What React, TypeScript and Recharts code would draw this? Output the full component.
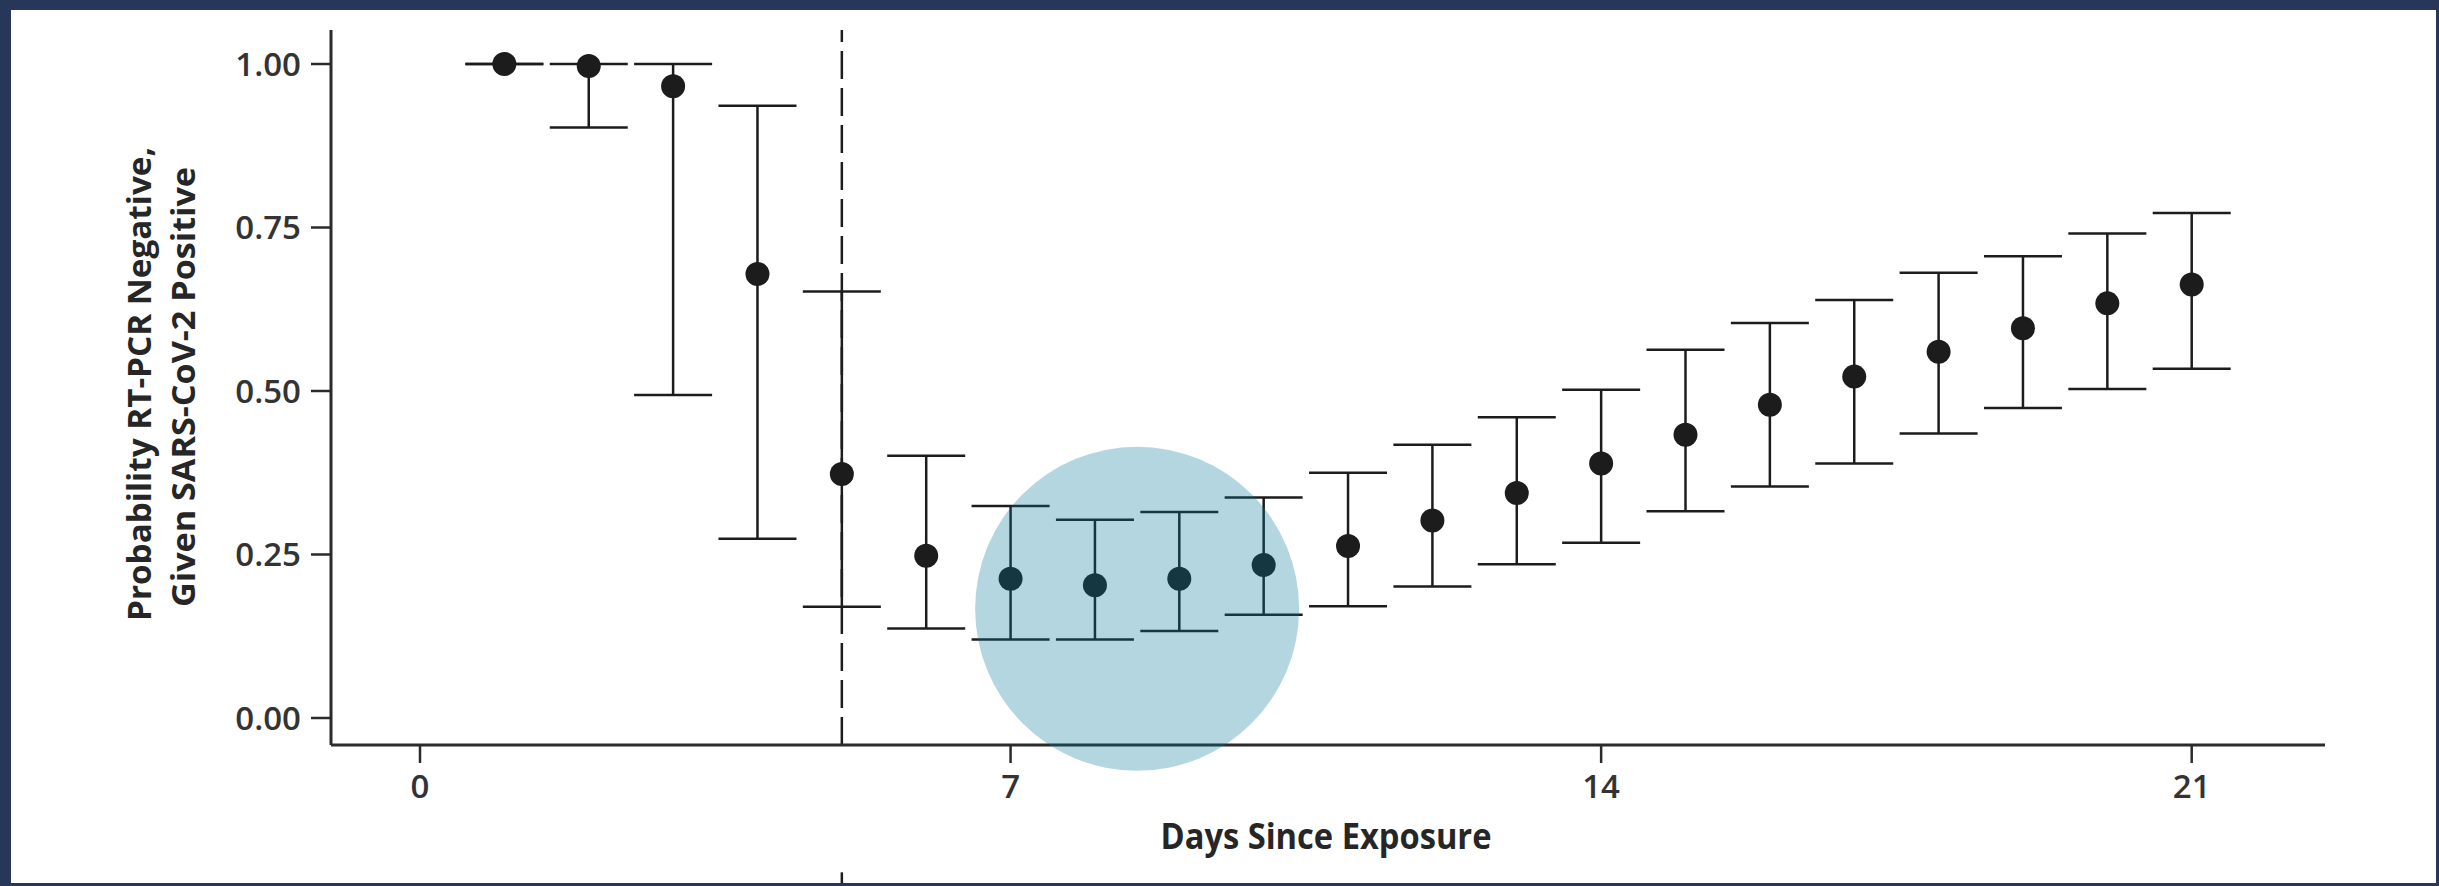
import {
  ScatterChart, Scatter, XAxis, YAxis, ErrorBar,
  ReferenceLine, ReferenceDot
} from 'recharts';

// values (probability RT-PCR negative, with 95% interval)
const days = [1, 2, 3, 4, 5, 6, 7, 8, 9, 10, 11, 12, 13, 14, 15, 16, 17, 18, 19, 20, 21];
const probNeg = [1.0, 0.997, 0.966, 0.679, 0.373, 0.248, 0.213, 0.203, 0.213, 0.234, 0.263,
  0.302, 0.344, 0.389, 0.433, 0.479, 0.522, 0.560, 0.596, 0.634, 0.663];
const lowerCI = [1.0, 0.903, 0.494, 0.274, 0.170, 0.137, 0.120, 0.120, 0.133, 0.158, 0.171,
  0.201, 0.235, 0.268, 0.316, 0.354, 0.389, 0.435, 0.474, 0.503, 0.534];
const upperCI = [1.0, 1.0, 1.0, 0.936, 0.652, 0.401, 0.324, 0.303, 0.315, 0.337, 0.375,
  0.418, 0.460, 0.502, 0.563, 0.604, 0.639, 0.681, 0.706, 0.741, 0.772];

const xTicks = [0, 7, 14, 21];
const yTicks = [0, 0.25, 0.5, 0.75, 1];
const symptomOnsetDay = 5;
const highlightDay = 8.5;
const highlightValue = 0.167;

const data = days.map((day, i) => ({
  day,
  p: probNeg[i],
  err: [probNeg[i] - lowerCI[i], upperCI[i] - probNeg[i]],
}));

const INK = '#1c1c1c';
const AXIS = '#2b2b2b';
const FONT = '"Open Sans", "DejaVu Sans", sans-serif';

const tickStyle = { fill: '#333', fontSize: 33, fontWeight: 600, fontFamily: FONT };

function Dot(props: any) {
  return <circle cx={props.cx} cy={props.cy} r={12} fill={INK} />;
}

function YTitle() {
  return (
    <g fontFamily={FONT} fontWeight={700} fontSize={32} fill="#262626">
      <text x={140} y={374} textAnchor="middle" transform="rotate(-90 140 374)"
        textLength={474} lengthAdjust="spacingAndGlyphs">
        Probability RT-PCR Negative,
      </text>
      <text x={184} y={377} textAnchor="middle" transform="rotate(-90 184 377)"
        textLength={440} lengthAdjust="spacingAndGlyphs">
        Given SARS-CoV-2 Positive
      </text>
    </g>
  );
}

function XTitle() {
  return (
    <text x={1315} y={839} textAnchor="middle" fontFamily={FONT} fontWeight={700}
      fontSize={36} fill="#262626" textLength={331} lengthAdjust="spacingAndGlyphs">
      Days Since Exposure
    </text>
  );
}

export default function App() {
  return (
    <div style={{ position: 'absolute', left: 0, top: 0, width: 2439, height: 886, background: '#27375a' }}>
      <div style={{ position: 'absolute', left: 11, top: 10, width: 2425, height: 873, background: '#fff' }}>
        <ScatterChart width={2425} height={873} margin={{ top: 20, right: 111, bottom: 0, left: 0 }}>
          <XAxis
            type="number"
            dataKey="day"
            domain={[-1.055, 22.58]}
            allowDataOverflow
            ticks={xTicks}
            height={138}
            tick={tickStyle}
            tickSize={18}
            tickMargin={12}
            axisLine={{ stroke: AXIS, strokeWidth: 3 }}
            tickLine={{ stroke: AXIS, strokeWidth: 2.5 }}
            label={() => <XTitle />}
          />
          <YAxis
            type="number"
            dataKey="p"
            domain={[-0.0413, 1.052]}
            allowDataOverflow
            ticks={yTicks}
            tickFormatter={(v: number) => v.toFixed(2)}
            width={320}
            tick={tickStyle}
            tickSize={20}
            tickMargin={10}
            axisLine={{ stroke: AXIS, strokeWidth: 3 }}
            tickLine={{ stroke: AXIS, strokeWidth: 2.5 }}
            label={() => <YTitle />}
          />
          <ReferenceLine x={symptomOnsetDay} stroke={INK} strokeWidth={2.5} strokeDasharray="28 9" />
          <ReferenceLine
            segment={[{ x: symptomOnsetDay, y: -0.236 }, { x: symptomOnsetDay, y: -0.26 }]}
            stroke={INK}
            strokeWidth={2.5}
            ifOverflow="visible"
          />
          <Scatter data={data} shape={Dot} isAnimationActive={false}>
            <ErrorBar dataKey="err" direction="y" width={39} stroke={INK} strokeWidth={2.5} isAnimationActive={false} />
          </Scatter>
          <ReferenceDot
            x={highlightDay}
            y={highlightValue}
            r={162}
            fill="#06769b"
            fillOpacity={0.3}
            stroke="none"
            ifOverflow="visible"
          />
        </ScatterChart>
      </div>
    </div>
  );
}
